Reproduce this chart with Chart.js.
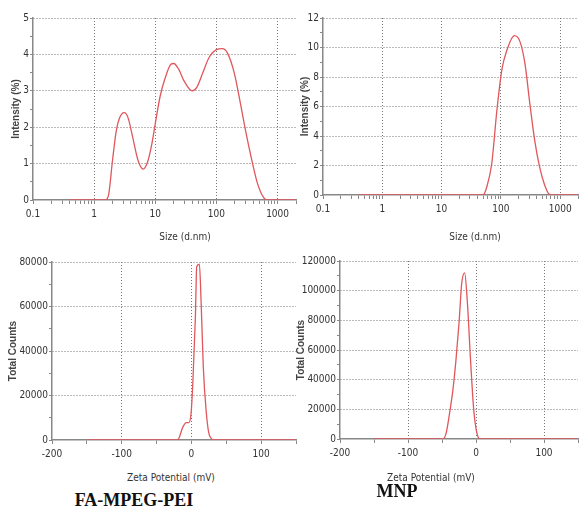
<!DOCTYPE html>
<html>
<head>
<meta charset="utf-8">
<script src="https://cdn.jsdelivr.net/npm/chart.js@4"></script>
<style>
  body { margin: 0; background: #fff; width: 582px; height: 517px; position: relative; overflow: hidden; }
  .panel { position: absolute; }
  .xtitle { position: absolute; font-family: 'Liberation Sans Narrow', 'DejaVu Sans Condensed', 'Liberation Sans', Arial, sans-serif; font-size: 10px; color: #333; transform: translate(-50%, -50%); white-space: nowrap; }
  .label { position: absolute; font-family: 'Liberation Serif', 'Times New Roman', serif; font-weight: bold; font-size: 18px; color: #111; transform: translate(-50%, -50%); white-space: nowrap; }
</style>
</head>
<body>
<div class="panel" style="left:0;top:0;width:300px;height:250px"><canvas id="sizeFa"></canvas></div>
<div class="panel" style="left:290px;top:0;width:292px;height:250px"><canvas id="sizeMnp"></canvas></div>
<div class="panel" style="left:0;top:250px;width:300px;height:215px"><canvas id="zetaFa"></canvas></div>
<div class="panel" style="left:290px;top:250px;width:292px;height:215px"><canvas id="zetaMnp"></canvas></div>

<div class="xtitle" style="left:185px;top:236px">Size (d.nm)</div>
<div class="xtitle" style="left:475px;top:236px">Size (d.nm)</div>
<div class="xtitle" style="left:171px;top:477px">Zeta Potential (mV)</div>
<div class="xtitle" style="left:431px;top:477px">Zeta Potential (mV)</div>
<div class="label" style="left:134px;top:500px">FA-MPEG-PEI</div>
<div class="label" style="left:397px;top:491px">MNP</div>

<script>
// size distribution, FA-MPEG-PEI
const faSize = [0.4, 1, 1.5, 1.7, 2.0, 2.3, 2.6, 3.1, 3.6, 4.3, 5.2, 6.3, 7.5, 8.8, 10, 12, 14.5, 18, 20, 24, 30, 40, 48, 60, 75, 100, 125, 150, 195, 250, 300, 390, 470, 600, 700, 2000];
const faIntensity = [0, 0, 0, 0.1, 1.1, 1.9, 2.25, 2.4, 2.25, 1.7, 1.1, 0.85, 1.05, 1.55, 2.1, 2.85, 3.35, 3.73, 3.75, 3.6, 3.25, 3.0, 3.1, 3.5, 3.9, 4.13, 4.16, 4.05, 3.5, 2.6, 1.9, 1.0, 0.45, 0.05, 0, 0];

// size distribution, MNP
const mnpSize = [0.4, 10, 50, 58, 70, 86, 104, 126, 169, 210, 255, 308, 372, 450, 545, 660, 800, 2000];
const mnpIntensity = [0, 0, 0, 0.56, 2.1, 5.8, 8.5, 9.8, 10.8, 10.4, 8.9, 6.2, 3.7, 1.9, 0.7, 0.05, 0, 0];

// zeta potential, FA-MPEG-PEI
const faZeta = [-150, -50, -20, -12, -7.6, -3.8, -0.5, 2, 5.7, 7.6, 11.4, 13.8, 17, 21, 25.7, 33, 150];
const faCounts = [0, 0, 0, 6000, 7800, 7800, 12000, 25500, 55500, 78000, 79000, 63000, 33000, 13500, 2250, 0, 0];

// zeta potential, MNP
const mnpZeta = [-150, -48.6, -44, -39, -34, -29.5, -25, -21, -16.7, -12.9, -8, -3.3, 1.4, 6, 150];
const mnpCounts = [0, 0, 3800, 17000, 33000, 53000, 78000, 105000, 112000, 93500, 53000, 19500, 3800, 0, 0];

const tickFont = { family: "'Liberation Sans Narrow', 'DejaVu Sans Condensed', 'Liberation Sans', Arial, sans-serif", size: 10 };
const titleFont = { family: "'Liberation Sans', Arial, sans-serif", size: 10, weight: 'bold' };
const lineColor = '#e0575c';
const axisColor = '#888';
const gridColor = '#777';

function isDecade(v) {
    const l = Math.log10(v);
    return Math.abs(l - Math.round(l)) < 1e-6;
}

function makeChart(id, xs, ys, cfg) {
    const points = xs.map((x, i) => ({ x: x, y: ys[i] }));
    const xScale = cfg.logX ? {
        type: 'logarithmic',
        min: 0.1,
        max: 2000,
        afterBuildTicks: scale => {
            const t = [];
            [0.1, 1, 10, 100, 1000].forEach(d => {
                for (let k = 1; k <= 9; k++) {
                    const v = +(d * k).toPrecision(6);
                    if (v <= 2000) t.push({ value: v });
                }
            });
            scale.ticks = t;
        },
        ticks: {
            autoSkip: false,
            maxRotation: 0,
            color: '#333',
            font: tickFont,
            padding: 4,
            callback: v => isDecade(v) ? String(+v.toPrecision(6)) : ''
        },
        grid: {
            color: ctx => (ctx.tick && isDecade(ctx.tick.value) && ctx.tick.value > 0.1) ? gridColor : 'rgba(0,0,0,0)',
            tickColor: axisColor,
            tickLength: 4
        }
    } : {
        type: 'linear',
        min: -200,
        max: 150,
        ticks: {
            stepSize: 50,
            autoSkip: false,
            maxRotation: 0,
            color: '#333',
            font: tickFont,
            padding: 4,
            callback: v => (v % 100 === 0) ? String(v) : ''
        },
        grid: {
            color: ctx => (ctx.tick && ctx.tick.value % 100 === 0 && ctx.tick.value > -200) ? gridColor : 'rgba(0,0,0,0)',
            tickColor: axisColor,
            tickLength: 4
        }
    };
    xScale.border = { color: axisColor, width: 1.5, dash: [1, 2] };
    xScale.title = { display: false };
    xScale.afterFit = scale => { scale.height = cfg.xHeight; };

    new Chart(document.getElementById(id), {
        type: 'line',
        data: {
            datasets: [{
                data: points,
                borderColor: lineColor,
                borderWidth: 1.3,
                pointRadius: 0,
                cubicInterpolationMode: 'monotone',
                fill: false
            }]
        },
        options: {
            responsive: true,
            maintainAspectRatio: false,
            animation: false,
            layout: { padding: { top: cfg.top, right: cfg.right, left: 0, bottom: 0 } },
            plugins: { legend: { display: false }, tooltip: { enabled: false } },
            scales: {
                x: xScale,
                y: {
                    min: 0,
                    max: cfg.yMax,
                    ticks: {
                        stepSize: cfg.yStep / 2,
                        autoSkip: false,
                        color: '#333',
                        font: tickFont,
                        padding: 1,
                        callback: v => (Math.abs(v / cfg.yStep - Math.round(v / cfg.yStep)) < 1e-6) ? String(v) : ''
                    },
                    grid: {
                        color: ctx => (ctx.tick && ctx.tick.value > 0 && Math.abs(ctx.tick.value / cfg.yStep - Math.round(ctx.tick.value / cfg.yStep)) < 1e-6) ? gridColor : 'rgba(0,0,0,0)',
                        tickColor: axisColor,
                        tickLength: 3
                    },
                    border: { color: axisColor, width: 1.5, dash: [1, 2] },
                    title: {
                        display: true,
                        text: cfg.yTitle,
                        color: '#444',
                        font: titleFont,
                        padding: { top: cfg.titlePad, bottom: 0 }
                    },
                    afterFit: scale => { scale.width = cfg.yWidth; }
                }
            }
        }
    });
}

makeChart('sizeFa', faSize, faIntensity, { logX: true, yMax: 5, yStep: 1, yTitle: 'Intensity (%)', top: 18, right: 3, yWidth: 33, xHeight: 50, titlePad: 10 });
makeChart('sizeMnp', mnpSize, mnpIntensity, { logX: true, yMax: 12, yStep: 2, yTitle: 'Intensity (%)', top: 18, right: 0, yWidth: 33, xHeight: 55, titlePad: 9 });
makeChart('zetaFa', faZeta, faCounts, { logX: false, yMax: 80000, yStep: 20000, yTitle: 'Total Counts', top: 12, right: 3, yWidth: 52, xHeight: 25, titlePad: 7 });
makeChart('zetaMnp', mnpZeta, mnpCounts, { logX: false, yMax: 120000, yStep: 20000, yTitle: 'Total Counts', top: 11, right: 0, yWidth: 50, xHeight: 26, titlePad: 5 });
</script>
</body>
</html>
